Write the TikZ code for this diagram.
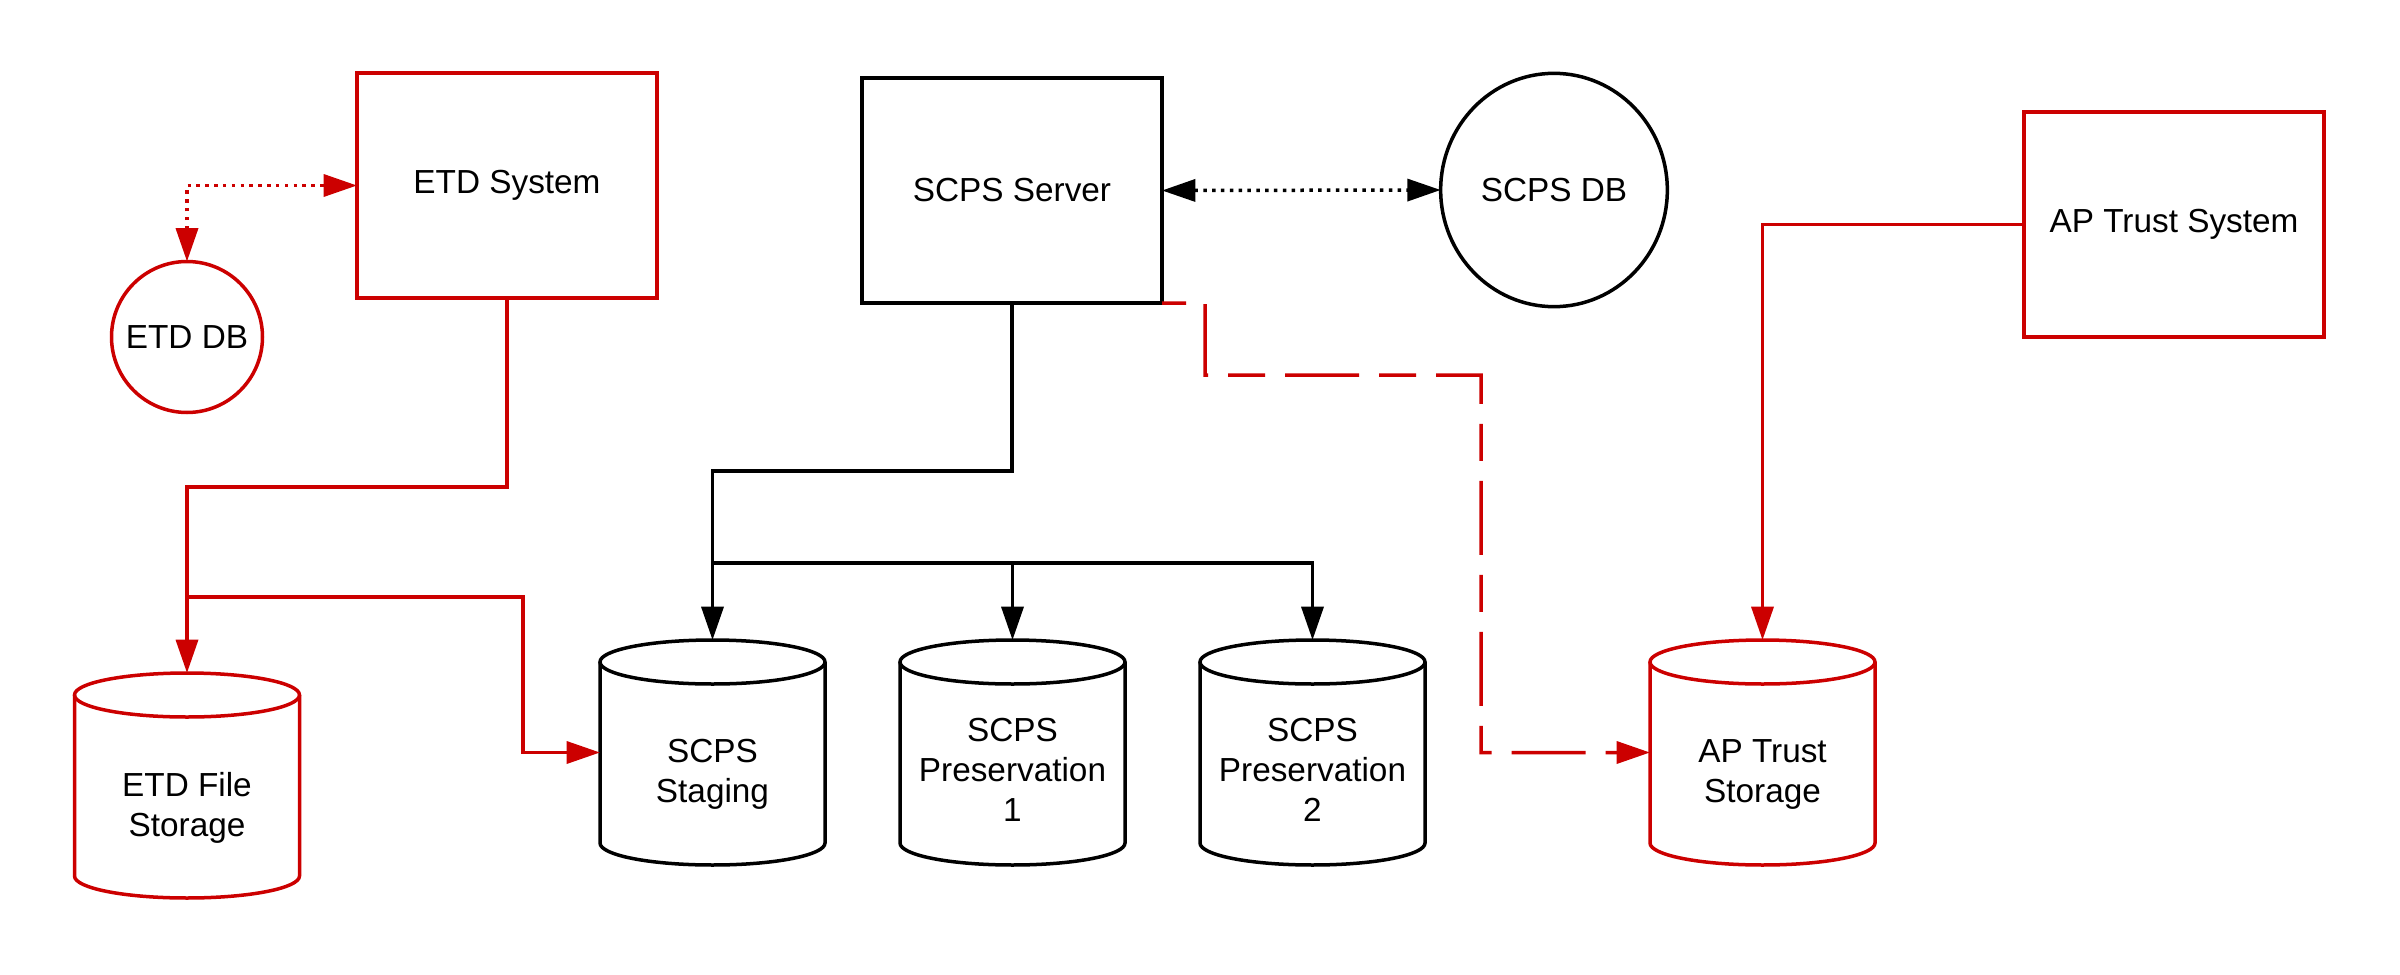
\documentclass[tikz,border=0pt]{standalone}
\usepackage{fontspec}
\setmainfont{Liberation Sans}
\usetikzlibrary{arrows.meta,calc,shapes.geometric}
\definecolor{lucred}{RGB}{204,0,0}
\newcommand\drawcyl[2]{%
  \draw[shapeline,#2] ($(#1.north west)+(0,-22)$) -- ($(#1.south west)+(0,22)$)
    arc[start angle=180,end angle=360,x radius=112.5,y radius=22]
    -- ($(#1.north east)+(0,-22)$);
  \draw[shapeline,#2] ($(#1.north)+(0,-22)$) ellipse[x radius=112.5,y radius=22];
}
\begin{document}
\begin{tikzpicture}[x=0.3pt,y=0.3pt,
  txt/.style={font=\fontsize{10}{12}\selectfont,align=center,text=black},
  shapeline/.style={line width=1.05pt},
  box/.style={txt,shapeline,draw,rectangle,minimum width=90pt,minimum height=67.5pt,inner sep=0pt,outer sep=0pt},
  cylbox/.style={rectangle,minimum width=67.5pt,minimum height=67.5pt,inner sep=0pt,outer sep=0pt},
  conn/.style={line width=1.05pt},
  tip/.style={-{Triangle[length=10pt,width=6.6pt]}},
  bitip/.style={{Triangle[length=10pt,width=6.6pt]}-{Triangle[length=10pt,width=6.6pt]}},
  dotline/.style={dash pattern=on 1.05pt off 1.6pt},
  longdash/.style={dash pattern=on 22.2pt off 6pt on 11.1pt off 6pt,dash phase=32.1pt}]
\path[use as bounding box,fill=white] (0,0) rectangle (2400,-975);

% boxes
\node[box,draw=lucred] (etd) at (507,-185.5) {ETD System};
\node[box] (srv) at (1012,-190.5) {SCPS Server};
\node[box,draw=lucred] (apsys) at (2174,-224.5) {AP Trust System};

% databases
\node[txt,shapeline,draw=lucred,circle,minimum size=45.3pt,inner sep=0pt,outer sep=0pt] (etddb) at (187,-337) {ETD DB};
\node[txt,shapeline,draw,ellipse,minimum width=68pt,minimum height=70pt,inner sep=0pt,outer sep=0pt] (scpsdb) at (1554,-190) {SCPS DB};

% cylinders
\node[cylbox,label={[txt,yshift=-6.6pt]center:{ETD File\\Storage}}] (efs) at (187,-785.5) {};
\node[cylbox,label={[txt,yshift=-6.6pt]center:{SCPS\\Staging}}] (stg) at (712.5,-752.5) {};
\node[cylbox,label={[txt,yshift=-5.3pt]center:{SCPS\\Preservation\\1}}] (p1) at (1012.5,-752.5) {};
\node[cylbox,label={[txt,yshift=-5.3pt]center:{SCPS\\Preservation\\2}}] (p2) at (1312.5,-752.5) {};
\node[cylbox,label={[txt,yshift=-6.6pt]center:{AP Trust\\Storage}}] (aps) at (1762.5,-752.5) {};
\drawcyl{efs}{lucred}
\drawcyl{stg}{black}
\drawcyl{p1}{black}
\drawcyl{p2}{black}
\drawcyl{aps}{lucred}

% connectors
\draw[conn,lucred,dotline,bitip] (etddb.north) |- (etd.west);
\draw[conn,dotline,bitip] (srv.east) -- (scpsdb.west);

\draw[conn,tip] (srv.south) -- (1012,-471) -| (stg.north);
\coordinate (j) at (712.5,-563);
\draw[conn,tip] (j) -| (p1.north);
\draw[conn,tip] (j) -| (p2.north);

\draw[conn,lucred,tip] (etd.south) -- (507,-487) -| (efs.north);
\coordinate (rj) at (187,-597);
\draw[conn,lucred,tip] (rj) -| (523,-752.5) -- (stg.west);

\draw[conn,lucred,tip] (apsys.west) -| (aps.north);

\draw[conn,lucred,longdash,tip] (srv.south east) -- (1205,-303) -- (1205,-375) -- (1481,-375) |- (aps.west);
\end{tikzpicture}
\end{document}
